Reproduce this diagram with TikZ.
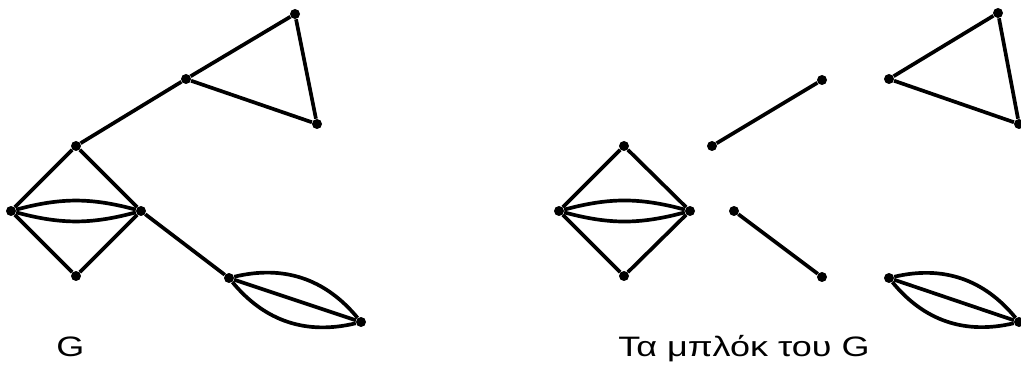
\documentclass[tikz,border=0pt]{standalone}
\usepackage{fontspec}
\usepackage{graphicx}
\setmainfont{Liberation Sans}
\usetikzlibrary{positioning}
\tikzset{
  vtx/.style={circle,fill=black,inner sep=0pt,minimum size=0.2cm},
  edg/.style={line width=2.1pt},
  lbl/.style={font=\fontsize{16}{19}\selectfont,anchor=base west,inner sep=0pt}
}
\newcommand{\widelbl}[1]{\scalebox{1.28}[1]{#1}}

\begin{document}
\begin{tikzpicture}[x=0.02cm,y=-0.02cm]
            \useasboundingbox (0,0) rectangle (1021,371);
            % the graph G
            \node[vtx] (t1) at (295,14) {};
            \node[vtx] (t2) at (186,79) {};
            \node[vtx] (t3) at (317,124) {};
            \node[vtx] (da) at (76,146) {};
            \node[vtx] (dl) at (11,211) {};
            \node[vtx] (dr) at (141,211) {};
            \node[vtx] (db) at (76,276) {};
            \node[vtx] (e1) at (229,278) {};
            \node[vtx] (e2) at (361,322) {};
            \draw[edg] (t1) -- (t2) -- (t3) -- (t1);
            \draw[edg] (t2) -- (da);
            \draw[edg] (da) -- (dl) -- (db) -- (dr) -- (da);
            \draw[edg] (dl) to[bend left=15] (dr);
            \draw[edg] (dl) to[bend right=15] (dr);
            \draw[edg] (dr) -- (e1);
            \draw[edg] (e1) -- (e2);
            \draw[edg] (e1) to[bend left=32] (e2);
            \draw[edg] (e1) to[bend right=32] (e2);
            \node[lbl] (gname) at (56,357) {\widelbl{G}};
            % its blocks
            \node[vtx] (ba) at (624,146) {};
            \node[vtx] (bl) at (559,211) {};
            \node[vtx] (br) at (690,211) {};
            \node[vtx] (bb) at (624,276) {};
            \draw[edg] (ba) -- (bl) -- (bb) -- (br) -- (ba);
            \draw[edg] (bl) to[bend left=15] (br);
            \draw[edg] (bl) to[bend right=15] (br);
            \node[vtx] (u1) at (712,146) {};
            \node[vtx] (u2) at (822,80) {};
            \draw[edg] (u1) -- (u2);
            \node[vtx] (w1) at (734,211) {};
            \node[vtx] (w2) at (822,277) {};
            \draw[edg] (w1) -- (w2);
            \node[vtx] (s1) at (998,13) {};
            \node[vtx] (s2) at (889,79) {};
            \node[vtx] (s3) at (1019,124) {};
            \draw[edg] (s1) -- (s2) -- (s3) -- (s1);
            \node[vtx] (f1) at (889,278) {};
            \node[vtx] (f2) at (1019,322) {};
            \draw[edg] (f1) -- (f2);
            \draw[edg] (f1) to[bend left=32] (f2);
            \draw[edg] (f1) to[bend right=32] (f2);
            \node[lbl] (bname) at (618,357) {\widelbl{Τα μπλόκ του G}};
          \end{tikzpicture}
\end{document}
